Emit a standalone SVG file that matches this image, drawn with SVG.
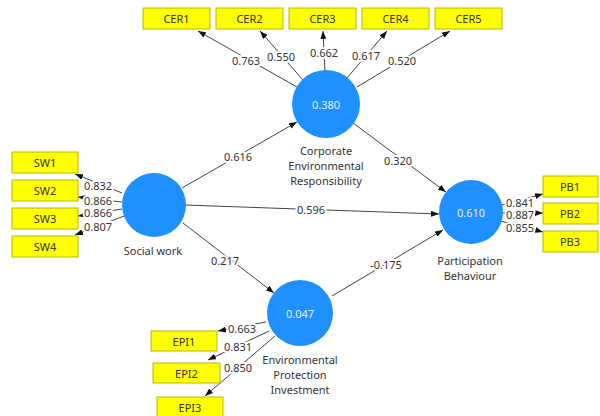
<svg xmlns="http://www.w3.org/2000/svg" width="600" height="416" viewBox="0 0 600 416">
<defs>
<marker id="ah" viewBox="0 0 8 6" refX="8" refY="3" markerWidth="8" markerHeight="6" markerUnits="userSpaceOnUse" orient="auto">
<path d="M0,0 L8,3 L0,6 Z" fill="#111"/>
</marker>
<style>
.box{fill:#ffff00;stroke:#b8b800;stroke-width:1}
.bt{font-family:"Noto Sans","Open Sans",sans-serif;font-size:11px;fill:#333;text-anchor:middle;dominant-baseline:central}
.lv{fill:#1e90ff}
.ct{font-family:"Noto Sans","Open Sans",sans-serif;font-size:11px;fill:#e8f2ff;text-anchor:middle;dominant-baseline:central}
.nl{font-family:"Noto Sans","Open Sans",sans-serif;font-size:11px;fill:#333;text-anchor:middle;dominant-baseline:central}
.ln{stroke:#444;stroke-width:1;fill:none;marker-end:url(#ah)}
.lb{font-family:"Noto Sans","Open Sans",sans-serif;font-size:11px;fill:#333;text-anchor:middle;dominant-baseline:central;stroke:#fff;stroke-width:4;paint-order:stroke;stroke-linejoin:round}
</style>
</defs>
<rect width="600" height="416" fill="#fff"/>
<g id="connectors">
<line class="ln" x1="297" y1="87" x2="198" y2="31"/>
<line class="ln" x1="303" y1="80" x2="260" y2="31"/>
<line class="ln" x1="325" y1="72" x2="323" y2="31"/>
<line class="ln" x1="347" y1="78" x2="387" y2="31"/>
<line class="ln" x1="357" y1="87" x2="450" y2="31"/>
<line class="ln" x1="122" y1="193" x2="75" y2="174"/>
<line class="ln" x1="122" y1="202" x2="78" y2="197"/>
<line class="ln" x1="122" y1="209" x2="78" y2="216"/>
<line class="ln" x1="124" y1="216" x2="75" y2="235"/>
<line class="ln" x1="502" y1="205" x2="543" y2="194"/>
<line class="ln" x1="502" y1="213" x2="543" y2="213"/>
<line class="ln" x1="500" y1="221" x2="543" y2="232"/>
<line class="ln" x1="266" y1="322" x2="218" y2="331"/>
<line class="ln" x1="269" y1="331" x2="208" y2="360"/>
<line class="ln" x1="275" y1="336" x2="205" y2="396"/>
<line class="ln" x1="182" y1="188" x2="297" y2="122"/>
<line class="ln" x1="353" y1="123" x2="446" y2="192"/>
<line class="ln" x1="185" y1="205" x2="439" y2="214"/>
<line class="ln" x1="183" y1="223" x2="274" y2="293"/>
<line class="ln" x1="332" y1="296" x2="443" y2="230"/>
<text class="lb" x="246" y="60">0.763</text>
<text class="lb" x="281" y="56">0.550</text>
<text class="lb" x="324" y="52">0.662</text>
<text class="lb" x="366" y="55">0.617</text>
<text class="lb" x="402" y="60">0.520</text>
<text class="lb" x="98" y="185">0.832</text>
<text class="lb" x="98" y="200">0.866</text>
<text class="lb" x="98" y="212">0.866</text>
<text class="lb" x="98" y="226">0.807</text>
<text class="lb" x="520" y="202">0.841</text>
<text class="lb" x="520" y="214">0.887</text>
<text class="lb" x="520" y="227">0.855</text>
<text class="lb" x="242" y="328">0.663</text>
<text class="lb" x="238" y="346">0.831</text>
<text class="lb" x="238" y="367">0.850</text>
<text class="lb" x="238" y="156">0.616</text>
<text class="lb" x="398" y="160">0.320</text>
<text class="lb" x="311" y="209">0.596</text>
<text class="lb" x="225" y="260">0.217</text>
<text class="lb" x="386" y="264">-0.175</text>
</g>
<g id="CER1"><rect class="box" x="143" y="8" width="67" height="21"/><text class="bt" x="176.5" y="18.5">CER1</text></g>
<g id="CER2"><rect class="box" x="216" y="8" width="67" height="21"/><text class="bt" x="249.5" y="18.5">CER2</text></g>
<g id="CER3"><rect class="box" x="289" y="8" width="67" height="21"/><text class="bt" x="322.5" y="18.5">CER3</text></g>
<g id="CER4"><rect class="box" x="362" y="8" width="67" height="21"/><text class="bt" x="395.5" y="18.5">CER4</text></g>
<g id="CER5"><rect class="box" x="435" y="8" width="67" height="21"/><text class="bt" x="468.5" y="18.5">CER5</text></g>
<g id="SW1"><rect class="box" x="12" y="152" width="66" height="21"/><text class="bt" x="45" y="162.5">SW1</text></g>
<g id="SW2"><rect class="box" x="12" y="180" width="66" height="21"/><text class="bt" x="45" y="190.5">SW2</text></g>
<g id="SW3"><rect class="box" x="12" y="208" width="66" height="21"/><text class="bt" x="45" y="218.5">SW3</text></g>
<g id="SW4"><rect class="box" x="12" y="236" width="66" height="21"/><text class="bt" x="45" y="246.5">SW4</text></g>
<g id="PB1"><rect class="box" x="543" y="176" width="55" height="21"/><text class="bt" x="570" y="186.5">PB1</text></g>
<g id="PB2"><rect class="box" x="543" y="203" width="55" height="21"/><text class="bt" x="570" y="213.5">PB2</text></g>
<g id="PB3"><rect class="box" x="543" y="231" width="55" height="21"/><text class="bt" x="570" y="241.5">PB3</text></g>
<g id="EPI1"><rect class="box" x="151" y="331" width="66" height="20"/><text class="bt" x="184" y="341">EPI1</text></g>
<g id="EPI2"><rect class="box" x="153" y="363" width="67" height="20"/><text class="bt" x="186.5" y="373">EPI2</text></g>
<g id="EPI3"><rect class="box" x="157" y="397" width="66" height="21"/><text class="bt" x="190" y="407">EPI3</text></g>
<g id="CER"><circle class="lv" cx="326" cy="104" r="34"/><text class="ct" x="326" y="104">0.380</text>
<text class="nl" x="326" y="150">Corporate</text><text class="nl" x="326" y="165">Environmental</text><text class="nl" x="326" y="180">Responsibility</text></g>
<g id="SW"><circle class="lv" cx="154" cy="205" r="32"/><text class="nl" x="153" y="250">Social work</text></g>
<g id="PB"><circle class="lv" cx="471" cy="212" r="32"/><text class="ct" x="471" y="212">0.610</text>
<text class="nl" x="470" y="260">Participation</text><text class="nl" x="470" y="275">Behaviour</text></g>
<g id="EPI"><circle class="lv" cx="300" cy="313" r="33"/><text class="ct" x="300" y="313">0.047</text>
<text class="nl" x="300" y="359">Environmental</text><text class="nl" x="300" y="374">Protection</text><text class="nl" x="300" y="389">Investment</text></g>
</svg>
